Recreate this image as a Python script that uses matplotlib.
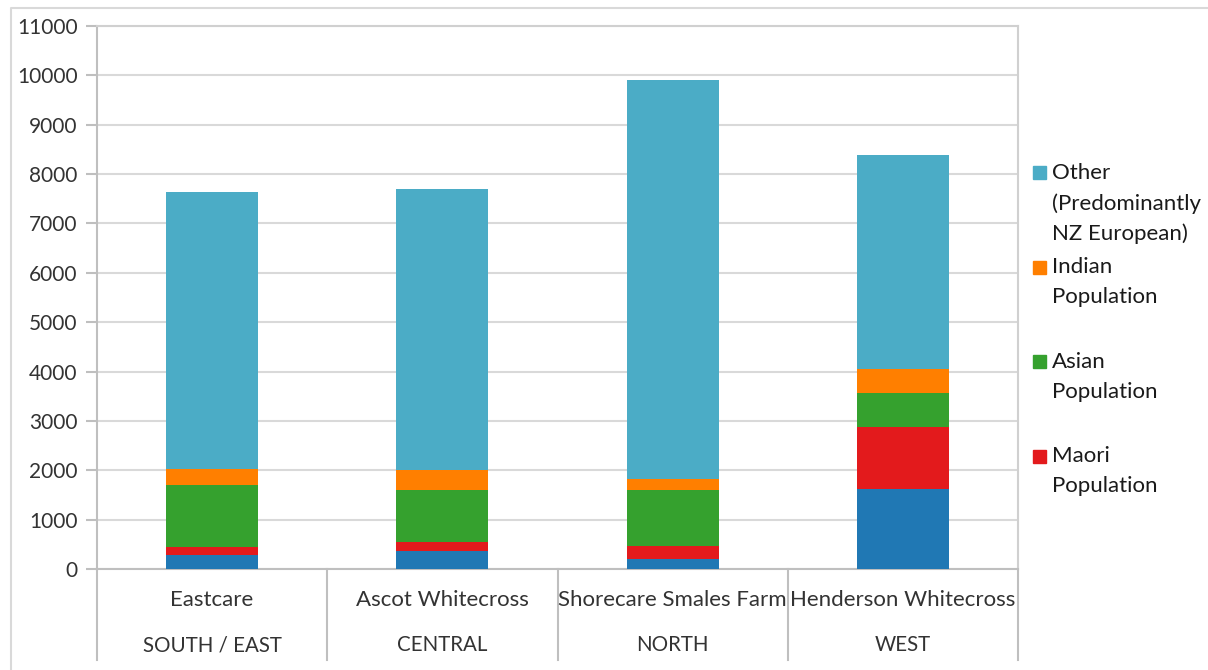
import matplotlib
matplotlib.use("Agg")
import matplotlib.pyplot as plt
from matplotlib.lines import Line2D
from matplotlib.patches import Rectangle
import numpy as np

plt.rcParams['font.family'] = ['Lato', 'DejaVu Sans']

sites = ["Eastcare", "Ascot Whitecross", "Shorecare Smales Farm", "Henderson Whitecross"]
regions = ["SOUTH / EAST", "CENTRAL", "NORTH", "WEST"]

pacific = [280, 360, 195, 1615]
maori = [160, 180, 270, 1255]
asian = [1255, 1060, 1135, 690]
indian = [325, 405, 215, 485]
other = [5615, 5690, 8085, 4340]

series = [
    ("Pacific Population", pacific, "#2078b4"),
    ("Maori\nPopulation", maori, "#e31a1c"),
    ("Asian\nPopulation", asian, "#35a12e"),
    ("Indian\nPopulation", indian, "#ff7f00"),
    ("Other\n(Predominantly\nNZ European)", other, "#4bacc6"),
]
legend_series = ["Other\n(Predominantly\nNZ European)", "Indian\nPopulation",
                 "Asian\nPopulation", "Maori\nPopulation"]

W, H = 1208, 670
fig = plt.figure(figsize=(W / 100, H / 100), dpi=100)
ax = fig.add_axes([97 / W, 1 - 569 / H, (1018 - 97) / W, (569 - 26) / H])

x = np.arange(len(sites))
bottom = np.zeros(len(sites))
for name, vals, col in series:
    ax.bar(x, vals, width=0.4, bottom=bottom, color=col, edgecolor='none', zorder=3)
    bottom += np.array(vals)

ax.set_xlim(-0.5, len(sites) - 0.5)
ax.set_ylim(0, 11000)
ax.set_yticks(np.arange(0, 11001, 1000))
ax.yaxis.grid(True, color="#d9d9d9", linewidth=1.5, zorder=0)
ax.set_axisbelow(True)
ax.set_xticks([])
grey = "#bfbfbf"
txt = "#333333"
for s in ["left", "right", "bottom", "top"]:
    ax.spines[s].set_color(grey if s in ("left", "bottom") else "#d0d0d0")
    ax.spines[s].set_linewidth(1.5)
ax.tick_params(axis='y', length=8, width=1.5, color=grey, labelsize=15,
               labelcolor=txt, pad=6)

# two-level category axis
drop = (660 - 569) / (569 - 26)
for b in np.arange(-0.5, len(sites), 1.0):
    ax.add_line(Line2D([b, b], [0, -drop], transform=ax.get_xaxis_transform(),
                       color=grey, linewidth=1.5, clip_on=False))
for i, (s, r) in enumerate(zip(sites, regions)):
    ax.text(i, -(600 - 569) / 543, s, transform=ax.get_xaxis_transform(),
            ha='center', va='center', fontsize=16, color=txt)
    ax.text(i, -(645 - 569) / 543, r, transform=ax.get_xaxis_transform(),
            ha='center', va='center', fontsize=14.8, color=txt)

# chart border
fig.add_artist(Line2D([11 / W, 11 / W, 1.0], [0, 1 - 8 / H, 1 - 8 / H],
                      transform=fig.transFigure, color="#d9d9d9", linewidth=1.5))

# legend (Excel-style, equal slots)
colors = {name: col for name, vals, col in series}
y0 = 172
for k, name in enumerate(legend_series):
    yc = y0 + k * 94.5
    fig.add_artist(Rectangle((1033 / W, 1 - (yc + 7) / H), 13 / W, 13 / H,
                             transform=fig.transFigure, color=colors[name]))
    fig.text(1052 / W, 1 - (yc - 9) / H, name, ha='left', va='top',
             fontsize=16, color="#1a1a1a", linespacing=1.6)

fig.savefig("out.png", dpi=100)
